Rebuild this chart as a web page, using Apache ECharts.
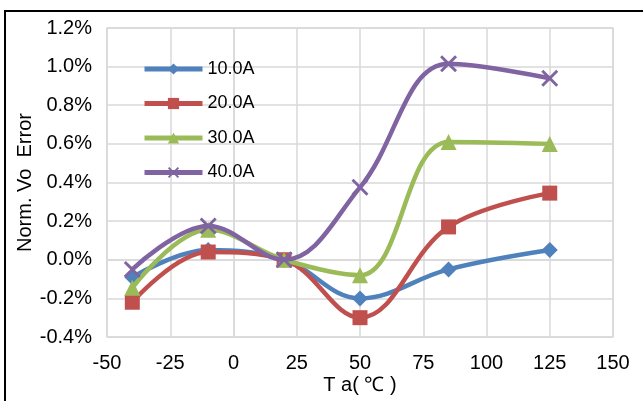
<!DOCTYPE html>
<html>
<head>
<meta charset="utf-8">
<script src="https://cdn.jsdelivr.net/npm/echarts@6/dist/echarts.min.js"></script>
<style>html,body{margin:0;padding:0;background:#fff}#c{width:643px;height:401px}</style>
</head>
<body>
<div id="c"></div>
<script>
var temps = [-40, -10, 20, 50, 85, 125];
var seriesNames = ['10.0A', '20.0A', '30.0A', '40.0A'];
var s10 = [-0.09, 0.05, 0.00, -0.20, -0.05, 0.05];
var s20 = [-0.22, 0.04, 0.00, -0.30, 0.17, 0.345];
var s30 = [-0.145, 0.155, 0.00, -0.08, 0.61, 0.60];
var s40 = [-0.05, 0.175, 0.00, 0.375, 1.015, 0.94];
var yTicksMin = -0.4, yTicksMax = 1.2, yStep = 0.2;
var xTicksMin = -50, xTicksMax = 150, xStep = 25;

var colors = ['#4F81BD', '#C0504D', '#9BBB59', '#8064A2'];
var symbols = ['diamond', 'rect', 'triangle',
  'path://M0,1.2 L1.2,0 L5,3.8 L8.8,0 L10,1.2 L6.2,5 L10,8.8 L8.8,10 L5,6.2 L1.2,10 L0,8.8 L3.8,5 Z'];
var symSizes = [16, 15, 16, 17];
var allData = [s10, s20, s30, s40];

function pairs(vals) { return temps.map(function (t, i) { return [t, vals[i]]; }); }

var font = '"Liberation Sans", Arial, sans-serif';
var series = seriesNames.map(function (n, k) {
  return {
    name: n, type: 'line', smooth: 0.38,
    data: pairs(allData[k]),
    symbol: symbols[k], symbolSize: symSizes[k],
    lineStyle: { color: colors[k], width: 4.5 },
    itemStyle: { color: colors[k] },
    z: 2 + k
  };
});

var chart = echarts.init(document.getElementById('c'), null, { renderer: 'canvas' });
chart.setOption({
  animation: false,
  backgroundColor: '#fff',
  textStyle: { fontFamily: font },
  graphic: [{
    type: 'rect', shape: { x: 5, y: 11, width: 800, height: 600 },
    style: { fill: 'none', stroke: '#000', lineWidth: 2 }, z: 0
  }],
  grid: { left: 107, top: 28, right: 30, bottom: 64, show: true, borderColor: '#d9d9d9', borderWidth: 1.5 },
  legend: {
    orient: 'vertical', left: 137, top: 55, itemWidth: 58, itemHeight: 14, itemGap: 16.5,
    lineStyle: { width: 5 },
    textStyle: { fontSize: 18, color: '#000', fontFamily: font },
    data: seriesNames
  },
  xAxis: {
    type: 'value', min: xTicksMin, max: xTicksMax, interval: xStep,
    name: 'T a( ℃ )', nameLocation: 'middle', nameGap: 38, nameMoveOverlap: false,
    nameTextStyle: { fontSize: 20, color: '#000', fontFamily: font },
    axisLine: { show: true, lineStyle: { color: '#d9d9d9', width: 1.5 } },
    axisTick: { show: false },
    axisLabel: { fontSize: 20, color: '#000', margin: 16 },
    splitLine: { show: true, lineStyle: { color: '#d9d9d9', width: 1.5 } }
  },
  yAxis: {
    type: 'value', min: yTicksMin, max: yTicksMax, interval: yStep,
    name: 'Norm. Vo  Error', nameLocation: 'middle', nameGap: 72, nameRotate: 90, nameMoveOverlap: false,
    nameTextStyle: { fontSize: 20, color: '#000', fontFamily: font },
    axisLine: { show: true, lineStyle: { color: '#d9d9d9', width: 1.5 } },
    axisTick: { show: false },
    axisLabel: { fontSize: 20, color: '#000', margin: 15,
      formatter: function (v) { return v.toFixed(1) + '%'; } },
    splitLine: { show: true, lineStyle: { color: '#d9d9d9', width: 1.5 } }
  },
  series: series
});
</script>
</body>
</html>
